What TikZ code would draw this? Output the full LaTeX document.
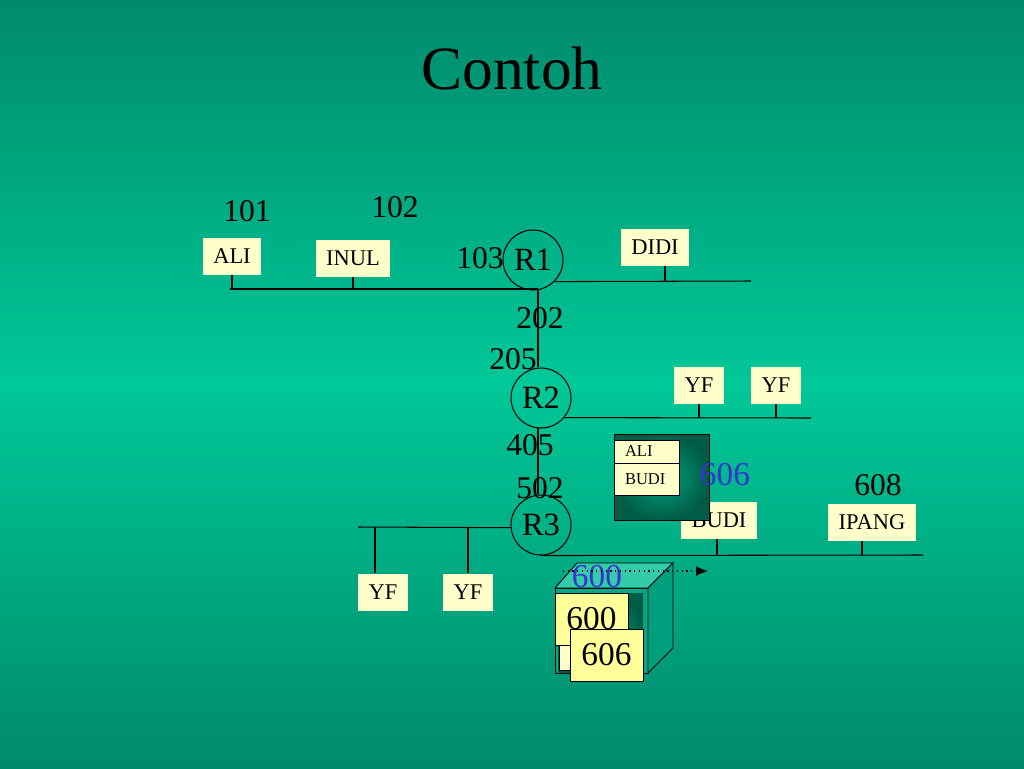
\documentclass[tikz,border=0pt]{standalone}
\usepackage{fontspec}
\setmainfont{Liberation Serif}
\usetikzlibrary{arrows.meta}

\definecolor{bgedge}{HTML}{008A6C}
\definecolor{bgmid}{HTML}{00C898}
\definecolor{cream}{HTML}{FFFFCC}
\definecolor{cardyellow}{HTML}{FFFF99}
\definecolor{boxdark}{HTML}{005C46}
\definecolor{boxlight}{HTML}{00A482}
\definecolor{cubetop}{HTML}{33CCAA}
\definecolor{cubeside}{HTML}{00A07E}
\definecolor{cubefront}{HTML}{00A884}
\definecolor{hopblue}{HTML}{3535CC}

\tikzset{
  host/.style={fill=cream, inner xsep=0.21cm, inner ysep=0pt, minimum height=0.74cm,
    font=\fontsize{12.8}{14}\selectfont},
  router/.style={circle, draw, line width=0.6pt, minimum size=1.2cm, inner sep=0pt,
    font=\fontsize{18.5}{20}\selectfont},
  addr/.style={inner sep=0pt, font=\fontsize{18}{20}\selectfont},
  hop/.style={inner sep=0pt, text=hopblue, font=\fontsize{19}{21}\selectfont},
  card/.style={fill=cardyellow, draw, line width=0.4pt, minimum width=1.46cm,
    minimum height=1.04cm, inner sep=0pt, font=\fontsize{19}{21}\selectfont},
  cell/.style={fill=cream, draw, line width=0.5pt, minimum width=1.3cm, inner xsep=0.22cm,
    inner ysep=0pt, text width=0.86cm, align=left, font=\fontsize{9.4}{11}\selectfont},
}

\begin{document}
\begin{tikzpicture}[x=0.02cm, y=-0.02cm, line width=0.6pt]

\useasboundingbox (0,0) rectangle (1024,768);
\shade[top color=bgedge, bottom color=bgedge, middle color=bgmid] (0,0) rectangle (1024,768);

\node[inner sep=0pt, font=\fontsize{35}{40}\selectfont] (title) at (512,68) {Contoh};

% routers
\node[router] (R1) at (533,260) {R1};
\node[router] (R2) at (541,398) {R2};
\node[router] (R3) at (541,525) {R3};

% hosts
\node[host] (ALI)   at (232,256) {ALI};
\node[host] (INUL)  at (353,258) {INUL};
\node[host] (DIDI)  at (655,247) {DIDI};
\node[host] (YFa)   at (699,385) {YF};
\node[host] (YFb)   at (776,385) {YF};
\node[host] (YFc)   at (383,592) {YF};
\node[host] (YFd)   at (468,592) {YF};
\node[host] (BUDI)  at (719,520) {BUDI};
\node[host] (IPANG) at (872,522) {IPANG};

% buses
\coordinate (b1w) at (230,289);
\coordinate (j1) at (538,289);
\coordinate (j2) at (538,428);
\coordinate (b1e) at (751,281);
\coordinate (b2e) at (811,418);
\coordinate (b3w) at (358,527);
\coordinate (b3e) at (923,555);

\draw (b1w) -- (j1);
\draw (j1) -- (R2.north -| j1);
\draw (j2) -- (R3.north -| j2);
\draw (R1.-45) -- (b1e);
\draw (R2.-40) -- (b2e);
\draw (b3w) -- (R3.185);
\draw (R3.south) -- (b3e);

\foreach \h in {ALI,INUL}
    \draw (\h.south) -- (\h.south |- b1w);
\draw ([xshift=0.2cm]DIDI.south) -- ([xshift=0.2cm]DIDI.south |- b1e);
\foreach \h in {YFa,YFb}
    \draw (\h.south) -- (\h.south |- b2e);
\draw ([xshift=-0.16cm]YFc.north) -- ([xshift=-0.16cm]YFc.north |- b3w);
\draw (YFd.north) -- (YFd.north |- b3w);
\draw ([xshift=-0.04cm]BUDI.south) -- ([xshift=-0.04cm]BUDI.south |- b3e);
\draw ([xshift=-0.2cm]IPANG.south) -- ([xshift=-0.2cm]IPANG.south |- b3e);

% addresses
\node[addr] (a101) at (247,211) {101};
\node[addr] (a102) at (395,207) {102};
\node[addr] (a103) at (480,258) {103};
\node[addr] (a202) at (540,318) {202};
\node[addr] (a205) at (513,359) {205};
\node[addr] (a405) at (530,445) {405};
\node[addr] (a502) at (540,488) {502};
\node[addr] (a608) at (878,485) {608};

% table box
\shade[inner color=boxlight, outer color=boxdark] (614,434) rectangle (709,520);
\draw[line width=0.5pt] (614,434) rectangle (709,520);
\node[cell, minimum height=0.46cm] (tALI)  at (646.5,451.5) {ALI};
\node[cell, minimum height=0.64cm] (tBUDI) at (646.5,479) {BUDI};
\node[hop] (h606) at (725,475) {606};

% cube
\coordinate (fl) at (555,588);
\coordinate (fr) at (648,588);
\coordinate (bl) at (577,563);
\coordinate (br) at (673,563);
\coordinate (fbr) at (648,673);
\coordinate (bbr) at (673,648);

\filldraw[fill=cubefront, line width=0.5pt] (fl) rectangle (fbr);
\filldraw[fill=cubetop, line width=0.5pt] (fl) -- (bl) -- (br) -- (fr) -- cycle;
\filldraw[fill=cubeside, line width=0.5pt] (fr) -- (br) -- (bbr) -- (fbr) -- cycle;
\shade[inner color=boxlight, outer color=boxdark] (558,593) rectangle (643,672);
\filldraw[fill=cream, line width=0.5pt] (559,600) rectangle (620,670);

\node[card] (c600) at (591.5,619) {600};
\node[card] (c606) at (606.5,655) {606};

\node[hop] (h600) at (597,577) {600};
\coordinate (fwd1) at (563,571);
\coordinate (fwd2) at (708,571);
\draw[dotted, line width=0.7pt, -{Latex[length=2.4mm, width=2mm]}] (fwd1) -- (fwd2);

\end{tikzpicture}
\end{document}
